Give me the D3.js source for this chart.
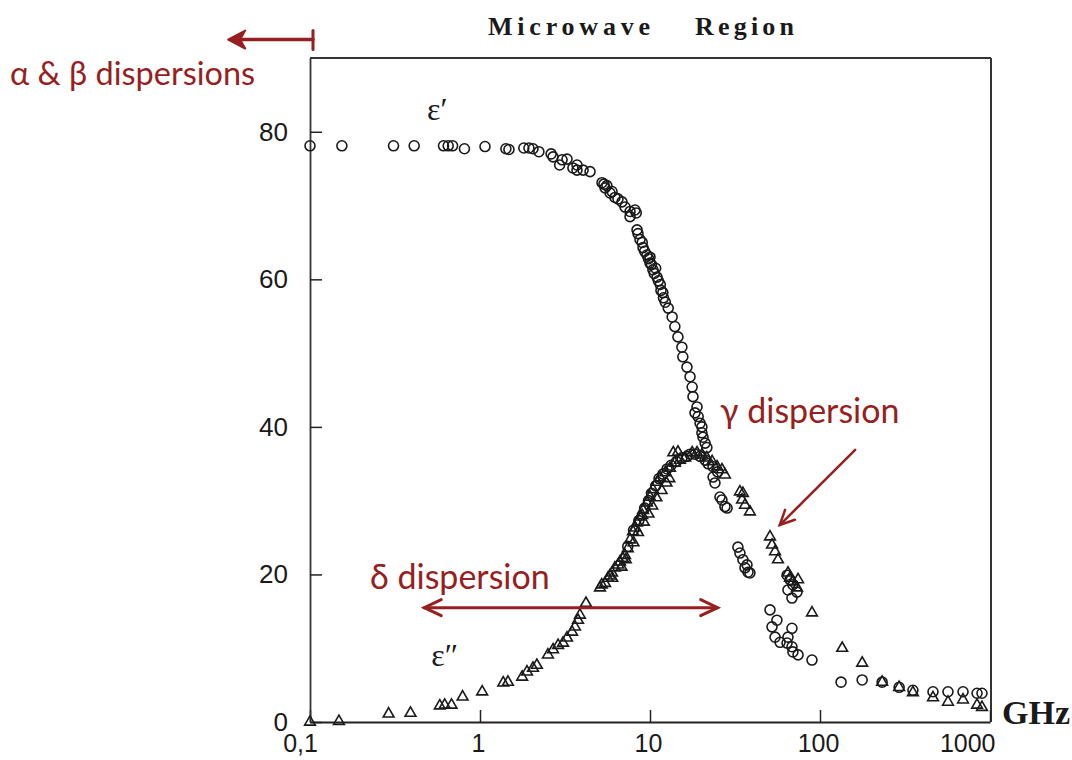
<!DOCTYPE html>
<html>
<head>
<meta charset="utf-8">
<script src="https://cdn.jsdelivr.net/npm/d3@7"></script>
<style>
  html, body { margin: 0; padding: 0; background: #fff; }
  svg { display: block; }
</style>
</head>
<body>
<svg id="chart" width="1072" height="760"></svg>
<script>
// ---- Data (frequency in GHz, permittivity) ----
const xTickValues = [0.1, 1, 10, 100, 1000];
const xTickLabels = ["0,1", "1", "10", "100", "1000"];
const yTickValues = [0, 20, 40, 60, 80];

// ε′ (real part) – circles
const freqPrime = [0.1, 0.154, 0.31, 0.41, 0.61, 0.65, 0.69, 0.81, 1.07, 1.42, 1.48, 1.81, 1.94, 2.05, 2.22, 2.62, 2.69, 2.94, 3.04, 3.25, 3.52, 3.72, 4.04, 3.72, 4.44,
  5.22, 5.36, 5.44, 5.58, 5.82, 5.98, 6.22, 6.48, 6.84, 7.13, 7.63, 7.63, 8.16, 8.3, 8.39, 8.5, 8.73, 9.0, 9.1, 9.3, 9.6, 9.8, 10, 10.0, 10.2, 10.4, 10.6, 10.8, 11.0, 11.2, 11.5, 11.6, 11.9, 12.0, 12.3, 12.8, 13.5, 14.0, 14.6, 15.4, 15.6, 16.5, 17.2, 17.7, 17.9, 18.4, 18.9, 19.2, 19.7, 20.2, 20.2, 20.5, 21.1, 21.6,
  23.5, 24.1, 25.8, 26.5, 27.6, 28.4,
  32.9, 33.8, 35.2, 36.2, 37.2, 37.7, 38.7,
  64.0, 66.6, 69.3, 73.2, 68.4, 64.8,
  50.8, 52.2, 55.8, 54.4, 58.2, 64.0, 68.4, 68.4, 69.3, 74.3, 64.8, 89.7,
  133, 177, 232, 292, 352, 462, 566, 694, 839, 897];
const epsPrime = [78.1, 78.1, 78.1, 78.1, 78.1, 78.1, 78.1, 77.7, 78.0, 77.7, 77.6, 77.8, 77.8, 77.7, 77.3, 77.0, 76.6, 75.5, 76.2, 76.3, 75.1, 75.5, 74.8, 74.8, 74.6,
  73.1, 72.9, 72.4, 72.7, 71.7, 71.9, 71.1, 70.9, 70.5, 69.8, 69.2, 68.5, 69.4, 69.0, 66.7, 66.2, 65.4, 65.0, 64.3, 63.8, 63.3, 62.8, 62.2, 63.0, 62.0, 61.3, 60.8, 61.5, 60.3, 59.8, 59.3, 58.5, 58.2, 57.5, 56.9, 56.1, 54.9, 53.6, 52.2, 50.8, 49.5, 48.1, 46.8, 45.4, 44.1, 41.9, 42.7, 41.4, 40.5, 40.0, 39.2, 38.6, 37.8, 37.2,
  33.2, 32.4, 30.5, 30.1, 29.2, 29.0,
  23.7, 22.9, 22.0, 20.9, 21.3, 20.3, 20.2,
  19.9, 19.3, 18.6, 17.6, 16.8, 17.9,
  15.2, 12.9, 13.8, 11.5, 10.8, 10.7, 12.7, 10.2, 9.5, 9.1, 11.5, 8.4,
  5.4, 5.7, 5.4, 4.7, 4.3, 4.1, 4.1, 4.1, 3.9, 3.9];

// ε″ (loss) – triangles
const freqLoss = [0.1, 0.148, 0.29, 0.39, 0.58, 0.62, 0.68, 0.79, 1.03, 1.37, 1.46, 1.77, 1.89, 2.05, 2.16, 2.51, 2.69, 2.88, 3.08, 3.25, 3.48, 3.62, 3.77, 3.87, 4.2,
  5.08, 5.2, 5.44, 5.66, 5.8, 5.98, 6.22, 6.5, 6.66, 6.9, 7.13, 7.4,
  7.63, 7.94, 8.2, 8.39, 8.73, 9.0, 9.1, 9.6, 10, 10.4, 11.0, 11.5, 12.3, 13.1, 13.7, 14.0, 14.6, 15.0, 16.1, 17.7, 18.9, 20.2, 21.6, 23.2, 24.8, 26.5, 27.6,
  8.0, 8.5, 9.2, 9.8, 10.3, 10.9, 11.7, 12.5, 13.0, 6.0, 6.8, 7.2,
  33.8, 34.8, 35.2, 36.2, 38.7,
  50.8, 52.2, 54.4, 56.6,
  64.8, 66.6, 69.3, 73.2, 74.3,
  89.7, 135, 177, 232, 292, 352, 462, 566, 694, 839, 897];
const epsLoss = [0.0, 0.1, 1.1, 1.2, 2.2, 2.3, 2.3, 3.4, 4.1, 5.3, 5.4, 6.1, 6.8, 7.3, 7.7, 9.1, 9.8, 10.4, 10.7, 11.4, 12.2, 12.9, 13.8, 14.5, 16.1,
  18.2, 18.6, 18.8, 19.5, 19.8, 20.2, 20.9, 21.3, 21.7, 22.2, 22.6, 23.5,
  24.7, 25.8, 26.3, 27.0, 27.8, 28.0, 28.7, 29.7, 30.5, 31.5, 32.5, 33.1, 33.8, 34.4, 36.5, 35.1, 36.6, 35.5, 35.8, 36.5, 36.5, 36.2, 35.8, 35.3, 34.6, 34.2, 33.5,
  24.3, 25.7, 27.1, 28.2, 29.3, 30.4, 31.4, 32.4, 33.0, 19.5, 21.0, 22.0,
  31.2, 30.1, 31.0, 29.4, 28.5,
  25.1, 24.0, 23.1, 22.0,
  20.2, 19.5, 19.0, 18.2, 19.3,
  14.8, 10.0, 8.0, 5.4, 4.7, 4.0, 3.3, 2.7, 3.0, 2.3, 2.0];

// ε″ measured with second set – circles along the loss peak
const freqLossB = [7.4, 8.0, 8.6, 9.3, 9.8, 10.2, 10.8, 11.3, 11.9, 12.6, 13.3, 14.3, 15.4, 16.5, 17.2, 18.4, 19.7, 21.1, 22.0, 23.5, 25.0];
const epsLossB = [23.8, 26.0, 27.3, 29.0, 30.0, 31.0, 32.0, 33.0, 33.6, 34.3, 34.8, 35.3, 35.8, 36.0, 36.3, 36.3, 36.0, 35.5, 35.0, 34.6, 33.9];

// ---- Chart ----
const svg = d3.select("#chart");
const plot = { left: 310, right: 990, top: 58, bottom: 722 };
const red = "#961f1f";
const ink = "#1a1a1a";

const x = d3.scaleLog().domain([0.1, 1000]).range([plot.left, plot.right]);
const y = d3.scaleLinear().domain([0, 90]).range([plot.bottom, plot.top]);

// frame (top & right)
svg.append("line").attr("x1", plot.left).attr("x2", plot.right + 1).attr("y1", plot.top).attr("y2", plot.top)
  .attr("stroke", "#333").attr("stroke-width", 2);
svg.append("line").attr("x1", plot.right + 1).attr("x2", plot.right + 1).attr("y1", plot.top).attr("y2", plot.bottom)
  .attr("stroke", "#333").attr("stroke-width", 2);

// axes
const xAxis = d3.axisBottom(x).tickValues(xTickValues)
  .tickFormat((d, i) => xTickLabels[i]).tickSize(-12).tickSizeOuter(0).tickPadding(12);
const gx = svg.append("g").attr("transform", `translate(0,${plot.bottom})`).call(xAxis);
gx.select(".domain").attr("stroke", "#222").attr("stroke-width", 2.2);
gx.selectAll(".tick line").attr("stroke", "#222").attr("stroke-width", 1.5);
gx.selectAll(".tick text").attr("font-family", "'Liberation Sans', Arial, sans-serif")
  .attr("font-size", 25).attr("fill", ink)
  .attr("text-anchor", (d, i) => i === xTickValues.length - 1 ? "end" : "middle")
  .attr("dx", (d, i) => i === 0 ? -10 : (i === xTickValues.length - 1 ? 5 : -2));

const yAxis = d3.axisLeft(y).tickValues(yTickValues).tickSize(-12).tickSizeOuter(0).tickPadding(22);
const gy = svg.append("g").attr("transform", `translate(${plot.left},0)`).call(yAxis);
gy.select(".domain").attr("stroke", "#333").attr("stroke-width", 1.8);
gy.selectAll(".tick line").attr("stroke", "#222").attr("stroke-width", 1.5);
gy.selectAll(".tick text").attr("font-family", "'Liberation Sans', Arial, sans-serif")
  .attr("font-size", 26).attr("fill", ink);

// markers
const ptsPrime = freqPrime.map((f, i) => [f, epsPrime[i]]);
const ptsLoss = freqLoss.map((f, i) => [f, epsLoss[i]]);
const ptsLossB = freqLossB.map((f, i) => [f, epsLossB[i]]);

const marks = svg.append("g");
marks.selectAll("circle.lb").data(ptsLossB).join("circle").attr("class", "lb")
  .attr("cx", d => x(d[0])).attr("cy", d => y(d[1])).attr("r", 5)
  .attr("fill", "none").attr("stroke", ink).attr("stroke-width", 1.6);
const tri = d3.symbol().type(d3.symbolTriangle).size(50);
marks.selectAll("path.tri").data(ptsLoss).join("path").attr("class", "tri")
  .attr("d", tri).attr("transform", d => `translate(${x(d[0])},${y(d[1])})`)
  .attr("fill", "none").attr("stroke", ink).attr("stroke-width", 1.6);
marks.selectAll("circle.pr").data(ptsPrime).join("circle").attr("class", "pr")
  .attr("cx", d => x(d[0])).attr("cy", d => y(d[1])).attr("r", 5)
  .attr("fill", "none").attr("stroke", ink).attr("stroke-width", 1.6);

// series labels
const serif = "'Liberation Serif', 'Times New Roman', serif";
svg.append("text").attr("x", x(0.56)).attr("y", y(81.6))
  .attr("font-family", serif).attr("font-size", 32)
  .attr("fill", ink).attr("text-anchor", "middle").text("ε′");
svg.append("text").attr("x", x(0.62)).attr("y", y(7.6))
  .attr("font-family", serif).attr("font-size", 32)
  .attr("fill", ink).attr("text-anchor", "middle").text("ε″");

// title & unit
svg.append("text").attr("x", 488).attr("y", 35).attr("font-family", serif).attr("font-weight", "bold")
  .attr("font-size", 26).attr("letter-spacing", 4.8).attr("fill", ink).text("Microwave");
svg.append("text").attr("x", 695).attr("y", 35).attr("font-family", serif).attr("font-weight", "bold")
  .attr("font-size", 26).attr("letter-spacing", 4.2).attr("fill", ink).text("Region");
svg.append("text").attr("x", 1002).attr("y", 724).attr("font-family", serif).attr("font-weight", "bold")
  .attr("font-size", 34).attr("fill", ink).text("GHz");

// annotations (red)
const annFont = "Lato, 'Open Sans', sans-serif";
svg.append("text").attr("x", 10).attr("y", 85).attr("font-family", annFont)
  .attr("font-size", 32.5).attr("fill", red).text("α & β dispersions");
svg.append("text").attr("x", 720).attr("y", 423).attr("font-family", annFont)
  .attr("font-size", 34).attr("fill", red).text("γ dispersion");
svg.append("text").attr("x", 370).attr("y", 589).attr("font-family", annFont)
  .attr("font-size", 34).attr("fill", red).text("δ dispersion");

const ann = svg.append("g").attr("stroke", red).attr("fill", "none").attr("stroke-linecap", "round");
// α & β arrow (to lower frequencies, beyond the axis)
const yTop = y(92.5);
ann.append("line").attr("x1", x(0.1) + 3).attr("x2", x(0.036)).attr("y1", yTop).attr("y2", yTop).attr("stroke-width", 3.5);
ann.append("line").attr("x1", x(0.1) + 3).attr("x2", x(0.1) + 3).attr("y1", yTop - 9).attr("y2", yTop + 10).attr("stroke-width", 3);
{
  const tx = x(0.033);
  ann.append("path").attr("d", `M${tx},${yTop} L${tx + 17},${yTop - 9} L${tx + 12},${yTop} L${tx + 17},${yTop + 9} Z`)
    .attr("fill", red).attr("stroke-width", 2).attr("stroke-linejoin", "round");
}
// δ double arrow
{
  const yd = y(15.5), x0 = x(0.47), x1 = x(25);
  ann.append("line").attr("x1", x0).attr("x2", x1).attr("y1", yd).attr("y2", yd).attr("stroke-width", 3);
  ann.append("path").attr("d", `M${x0 + 17},${yd - 8} L${x0},${yd} L${x0 + 17},${yd + 8}`).attr("stroke-width", 3);
  ann.append("path").attr("d", `M${x1 - 17},${yd - 8} L${x1},${yd} L${x1 - 17},${yd + 8}`).attr("stroke-width", 3);
}
// γ arrow
{
  const xs = x(161), ys = y(36.9), xe = x(58), ye = y(26.7);
  ann.append("line").attr("x1", xs).attr("y1", ys).attr("x2", xe).attr("y2", ye).attr("stroke-width", 2.5);
  const ang = Math.atan2(ye - ys, xe - xs);
  const L = 16, spread = 0.45;
  const p1 = [xe - L * Math.cos(ang - spread), ye - L * Math.sin(ang - spread)];
  const p2 = [xe - L * Math.cos(ang + spread), ye - L * Math.sin(ang + spread)];
  ann.append("path").attr("d", `M${p1[0]},${p1[1]} L${xe},${ye} L${p2[0]},${p2[1]}`).attr("stroke-width", 2.5);
}
</script>
</body>
</html>
